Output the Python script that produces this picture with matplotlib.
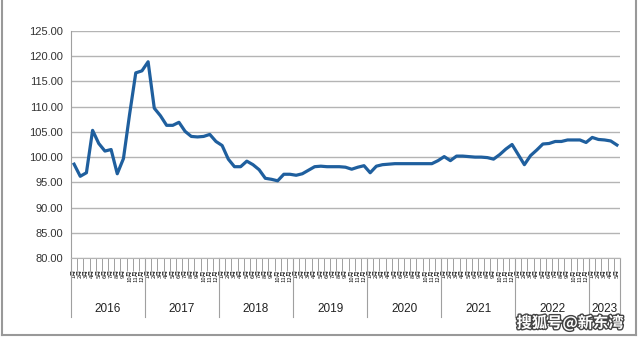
import numpy as np
import matplotlib
matplotlib.use('Agg')
from matplotlib import pyplot as plt
import matplotlib.patheffects as pe
from matplotlib.transforms import blended_transform_factory

# 月度指数, 2016.01 - 2023.05
years = ['2016', '2017', '2018', '2019', '2020', '2021', '2022', '2023']
months_in_year = [12, 12, 12, 12, 12, 12, 12, 5]
values = [
    98.6, 96.2, 96.9, 105.3, 102.7, 101.2, 101.5, 96.7, 99.7, 108.5, 116.7, 117.1,
    118.9, 109.7, 108.2, 106.3, 106.3, 106.9, 105.1, 104.1, 104.0, 104.1, 104.5, 103.1,
    102.3, 99.6, 98.1, 98.1, 99.2, 98.5, 97.5, 95.8, 95.6, 95.3, 96.6, 96.6,
    96.4, 96.7, 97.4, 98.1, 98.2, 98.1, 98.1, 98.1, 98.0, 97.6, 98.0, 98.3,
    96.9, 98.2, 98.5, 98.6, 98.7, 98.7, 98.7, 98.7, 98.7, 98.7, 98.7, 99.3,
    100.1, 99.3, 100.2, 100.2, 100.1, 100.0, 100.0, 99.9, 99.6, 100.5, 101.6, 102.5,
    100.5, 98.5, 100.3, 101.4, 102.6, 102.7, 103.1, 103.1, 103.4, 103.4, 103.4, 102.9,
    103.9, 103.5, 103.4, 103.2, 102.4,
]
month_labels = [f'{m}月' for n in months_in_year for m in range(1, n + 1)]

plt.rcParams['font.family'] = ['Liberation Sans', 'Noto Sans CJK SC', 'DejaVu Sans']

fig = plt.figure(figsize=(6.4, 3.4), dpi=100)
fig.patch.set_facecolor('white')
ax = fig.add_axes([71 / 640, 82 / 340, 549 / 640, 227 / 340])

n = len(values)
x = np.arange(n)
ax.plot(x, values, color='#1F5F9E', lw=2.3, solid_joinstyle='round')

ax.set_xlim(-0.5, n - 0.5)
ax.set_ylim(80, 125)
ax.set_yticks(np.arange(80, 126, 5))
ax.set_yticklabels([f'{v:.2f}' for v in np.arange(80, 126, 5)], fontsize=8, color='#333333')
ax.yaxis.grid(True, color='#b4b4b4', lw=1.0)
ax.set_axisbelow(True)
ax.tick_params(axis='y', length=0, pad=6)

for s in ['top', 'right']:
    ax.spines[s].set_visible(False)
ax.spines['left'].set_color('#a0a0a0')
ax.spines['bottom'].set_color('#b4b4b4')

# 月份标签
ax.set_xticks(x)
ax.set_xticklabels(month_labels, rotation=90, fontsize=4.3, family=['Noto Sans CJK SC'],
                   color='#111111', va='top')
ax.tick_params(axis='x', which='major', length=0, pad=8)
ax.set_xticks(np.arange(-0.5, n, 1), minor=True)
ax.tick_params(axis='x', which='minor', length=9, color='#a0a0a0', width=0.7)

# 年份分隔与标签
trans = blended_transform_factory(ax.transData, ax.transAxes)
bounds = np.concatenate([[0], np.cumsum(months_in_year)]) - 0.5
for b in bounds:
    ax.plot([b, b], [0, -0.26], transform=trans, color='#a0a0a0', lw=0.8, clip_on=False)
for i, yr in enumerate(years):
    ax.text((bounds[i] + bounds[i + 1]) / 2, -0.225, yr, transform=trans,
            ha='center', va='center', fontsize=8.5, color='#222222')

# 外框
fig.add_artist(plt.Line2D([1.5 / 640, 1.5 / 640], [5 / 340, 1], color='#999999', lw=1.5))
fig.add_artist(plt.Line2D([1.5 / 640, 636 / 640], [5 / 340, 5 / 340], color='#999999', lw=1.5))
fig.add_artist(plt.Line2D([636 / 640, 636 / 640], [5 / 340, 1], color='#999999', lw=1.5))

fig.text(570 / 640, 17 / 340, '搜狐号@新东湾', family=['Noto Sans CJK SC'], fontsize=11,
         fontweight='bold', color='white', ha='center', va='center',
         path_effects=[pe.withStroke(linewidth=2, foreground='#444444')])

fig.savefig('out.png', dpi=100)
